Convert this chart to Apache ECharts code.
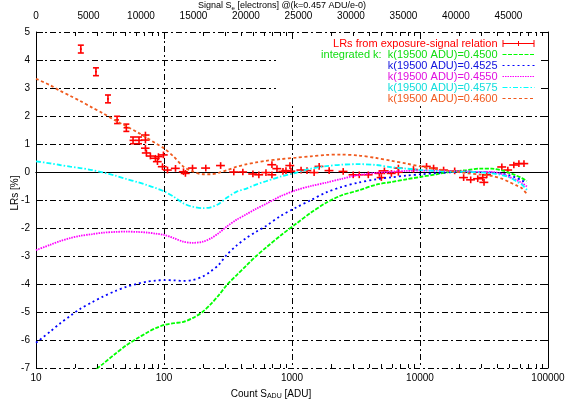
<!DOCTYPE html>
<html><head><meta charset="utf-8">
<script src="https://cdn.jsdelivr.net/npm/echarts@6/dist/echarts.min.js"></script>
<style>html,body{margin:0;padding:0;background:#fff}#c{width:567px;height:402px}</style>
</head><body><div id="c"></div>
<script>
// ---- data ----
const curveX = [10, 12.9, 15.4, 18.5, 22.1, 27.5, 33, 41.7, 50.8, 62, 72.9, 85.7, 101, 119, 142, 167, 201, 232, 268, 309, 370, 436, 522, 626, 820, 1075, 1409, 1848, 2422, 3294, 4560, 5976, 7830, 10270, 13460, 17650, 23170, 29300, 36380, 43590, 49430, 56100, 62500, 68400];
const yK4500 = [null, null, null, null, null, -7.15, -6.87, -6.49, -6.19, -5.94, -5.75, -5.58, -5.46, -5.40, -5.35, -5.22, -4.99, -4.72, -4.40, -4.04, -3.68, -3.36, -3.01, -2.70, -2.26, -1.85, -1.45, -1.10, -0.84, -0.66, -0.45, -0.36, -0.26, -0.17, -0.08, 0.01, 0.07, 0.12, 0.12, 0.06, -0.02, -0.12, -0.22, -0.32];
const yK4525 = [-6.10, -5.70, -5.41, -5.14, -4.89, -4.65, -4.46, -4.25, -4.10, -3.99, -3.92, -3.88, -3.86, -3.87, -3.89, -3.86, -3.73, -3.55, -3.31, -2.96, -2.62, -2.37, -2.14, -1.93, -1.56, -1.27, -1.00, -0.73, -0.54, -0.38, -0.26, -0.19, -0.13, -0.08, -0.04, -0.01, 0.01, 0.0, -0.02, -0.06, -0.11, -0.20, -0.30, -0.40];
const yK4550 = [-2.79, -2.60, -2.47, -2.36, -2.28, -2.22, -2.17, -2.14, -2.13, -2.14, -2.16, -2.20, -2.25, -2.36, -2.49, -2.53, -2.49, -2.37, -2.18, -1.95, -1.70, -1.52, -1.32, -1.14, -0.86, -0.65, -0.50, -0.38, -0.25, -0.11, -0.03, 0.01, 0.04, 0.05, 0.05, 0.04, 0.02, 0.0, 0.0, -0.07, -0.17, -0.28, -0.39, -0.52];
const yK4575 = [0.38, 0.31, 0.25, 0.19, 0.14, 0.07, -0.01, -0.13, -0.25, -0.36, -0.46, -0.57, -0.70, -0.88, -1.12, -1.24, -1.29, -1.26, -1.14, -0.92, -0.70, -0.60, -0.45, -0.33, -0.16, -0.03, 0.12, 0.21, 0.26, 0.28, 0.25, 0.17, 0.12, 0.07, 0.04, 0.01, 0.0, -0.01, -0.05, -0.11, -0.18, -0.32, -0.45, -0.64];
const yK4600 = [3.33, 3.10, 2.90, 2.72, 2.54, 2.30, 2.11, 1.84, 1.63, 1.42, 1.23, 1.03, 0.83, 0.55, 0.19, 0.02, -0.08, -0.08, -0.03, 0.06, 0.19, 0.27, 0.34, 0.40, 0.46, 0.51, 0.56, 0.61, 0.62, 0.59, 0.50, 0.40, 0.30, 0.19, 0.10, 0.03, -0.04, -0.09, -0.14, -0.24, -0.35, -0.47, -0.58, -0.79];

const lrX = [22.4, 29.4, 36.5, 43, 50.8, 57.3, 63.8, 71.6, 71.6, 71.6, 72.9, 78.3, 85.7, 88.9, 90.5, 99, 97.3, 106.5, 123, 142, 147, 167, 212, 277, 351, 413, 495, 551, 626, 697, 697, 763, 850, 897, 964, 982, 1177, 1310, 1489, 1630, 1951, 2512, 3008, 3353, 3945, 4811, 4990, 5976, 6780, 5271, 6780, 8892, 11250, 12770, 15290, 18660, 21930, 24890, 28250, 30920, 31640, 33240, 43590, 48560, 54080, 59240, 64900];
const lrY = [4.39, 3.58, 2.61, 1.86, 1.58, 1.13, 1.13, 1.32, 1.14, 0.85, 0.68, 0.57, 0.49, 0.37, 0.55, 0.61, 0.19, 0.07, 0.13, 0.01, -0.05, 0.14, 0.14, 0.23, 0.0, 0.0, -0.07, -0.1, -0.02, 0.26, -0.1, 0.12, 0.02, 0.05, 0.23, 0.03, 0.07, 0.05, -0.02, 0.2, 0.05, 0.02, -0.1, -0.1, -0.1, -0.05, -0.2, -0.05, -0.01, 0.04, 0.14, 0.09, 0.2, 0.14, 0.07, 0.04, -0.2, -0.28, -0.24, -0.2, -0.37, -0.1, 0.18, 0.07, 0.25, 0.3, 0.3];
const lrXErr = [0.4, 0.5, 0.6, 1.5, 2.5, 3.5, 4, 5.5, 5.5, 5.5, 5.8, 6.2, 6.8, 7, 7.2, 7.9, 7.8, 8.5, 9.8, 11.4, 11.8, 13.4, 17, 22, 28, 33, 40, 44, 50, 56, 56, 61, 68, 72, 77, 79, 94, 105, 119, 130, 156, 201, 241, 268, 316, 385, 399, 478, 542, 422, 542, 711, 900, 1022, 1223, 1493, 1754, 1991, 2260, 2474, 2531, 2659, 3487, 3885, 4326, 4739, 5192];
const lrYErr = [0.14, 0.14, 0.14, 0.13, 0.13, 0.12, 0.12, 0.12, 0.12, 0.12, 0.12, 0.12, 0.12, 0.12, 0.12, 0.12, 0.12, 0.12, 0.12, 0.12, 0.12, 0.12, 0.12, 0.12, 0.12, 0.12, 0.12, 0.12, 0.12, 0.12, 0.12, 0.12, 0.12, 0.12, 0.12, 0.12, 0.12, 0.12, 0.12, 0.12, 0.12, 0.12, 0.12, 0.12, 0.12, 0.12, 0.12, 0.12, 0.12, 0.12, 0.12, 0.12, 0.12, 0.12, 0.12, 0.12, 0.12, 0.12, 0.12, 0.12, 0.12, 0.12, 0.12, 0.12, 0.12, 0.12, 0.12];

const minorTicks = [20, 30, 40, 50, 60, 70, 80, 90, 200, 300, 400, 500, 600, 700, 800, 900, 2000, 3000, 4000, 5000, 6000, 7000, 8000, 9000, 20000, 30000, 40000, 50000, 60000, 70000, 80000, 90000];

const names = ['LRs from exposure-signal relation', 'integrated k:  k(19500 ADU)=0.4500', 'k(19500 ADU)=0.4525', 'k(19500 ADU)=0.4550', 'k(19500 ADU)=0.4575', 'k(19500 ADU)=0.4600'];
// ---- style ----
const FONT = '"Liberation Sans", Arial, Helvetica, sans-serif';
const RED = '#ff0000', GREEN = '#00ff00', BLUE = '#0000ff', MAG = '#ff00ff', CYAN = '#00ffff', ORG = '#f05a1e';
const DASH = [6, 3, 2, 3];
const Y_MIN = -7, Y_MAX = 5;

function pairs(ys) { return curveX.map((x, i) => [x, ys[i]]); }
function lineSeries(name, ys, color, dash) {
  return {
    name, type: 'line', data: pairs(ys), xAxisIndex: 0, yAxisIndex: 0,
    showSymbol: false, symbol: 'none', smooth: 0.3, connectNulls: false,
    lineStyle: {color, width: 1.8, type: dash}, itemStyle: {color}, z: 3
  };
}
function errItem(params, api) {
  const x = api.value(0), y = api.value(1), dx = api.value(2), dy = api.value(3);
  const l = api.coord([x - dx, y]), r = api.coord([x + dx, y]);
  const t = api.coord([x, y + dy]), b = api.coord([x, y - dy]);
  const st = () => ({stroke: RED, lineWidth: 1.6, fill: null});
  const children = [
    {type: 'line', shape: {x1: l[0], y1: l[1], x2: r[0], y2: r[1]}, style: st()},
    {type: 'line', shape: {x1: t[0], y1: t[1], x2: b[0], y2: b[1]}, style: st()}
  ];
  if (dx / x < 0.065) {
    const cap = 3;
    children.push({type: 'line', shape: {x1: t[0] - cap, y1: t[1], x2: t[0] + cap, y2: t[1]}, style: st()});
    children.push({type: 'line', shape: {x1: b[0] - cap, y1: b[1], x2: b[0] + cap, y2: b[1]}, style: st()});
  }
  return {type: 'group', children};
}
function tickItem(params, api) {
  const v = api.value(0);
  const b = api.coord([v, Y_MIN]), t = api.coord([v, Y_MAX]);
  const st = () => ({stroke: '#000', lineWidth: 1});
  const bx = Math.round(b[0]) + 0.5;
  return {type: 'group', children: [
    {type: 'line', shape: {x1: bx, y1: b[1], x2: bx, y2: b[1] - 4}, style: st()},
    {type: 'line', shape: {x1: bx, y1: t[1], x2: bx, y2: t[1] + 4}, style: st()}
  ]};
}

const chart = echarts.init(document.getElementById('c'), null, {renderer: 'canvas'});
const option = {
  animation: false,
  backgroundColor: '#fff',
  textStyle: {fontFamily: FONT},
  grid: {left: 36, top: 32, right: 19, bottom: 34, outerBoundsMode: 'none', containLabel: false},
  graphic: [{type: 'rect', shape: {x: 276, y: 39, width: 265, height: 67}, style: {fill: '#fff'}, z: 1, silent: true}],
  legend: {
    orient: 'vertical', right: 32, top: 38, align: 'right', padding: 0,
    itemWidth: 32, itemHeight: 9, itemGap: 0,
    textStyle: {fontSize: 11, lineHeight: 11, fontFamily: FONT},
    lineStyle: {width: 1},
    itemStyle: {opacity: 0},
    selectedMode: false,
    data: [
      {name: names[0], icon: 'path://M0,3.5h32v1h-32z M0,0.5h1v7h-1z M31,0.5h1v7h-1z M15.5,1.5h1v5h-1z', itemStyle: {opacity: 1, color: RED}, textStyle: {color: RED}},
      {name: names[1], textStyle: {color: '#10dd10'}},
      {name: names[2], textStyle: {color: '#1010dd'}},
      {name: names[3], textStyle: {color: '#e010e0'}},
      {name: names[4], textStyle: {color: '#10dddd'}},
      {name: names[5], textStyle: {color: ORG}}
    ]
  },
  xAxis: [
    {
      type: 'log', logBase: 10, min: 10, max: 100000, position: 'bottom',
      axisLine: {show: true, lineStyle: {color: '#000', width: 1}},
      axisTick: {show: true, inside: true, length: 7, lineStyle: {color: '#000'}},
      axisLabel: {color: '#000', fontSize: 10, margin: 5, fontFamily: FONT, formatter: v => String(Math.round(v))},
      splitLine: {show: true, lineStyle: {color: '#000', width: 1, type: DASH}},
      name: 'Count S{sub|ADU} [ADU]', nameLocation: 'middle', nameGap: 21, nameMoveOverlap: false,
      nameTextStyle: {color: '#000', fontSize: 10, fontFamily: FONT, padding: [0, 42, 0, 0],
        rich: {sub: {fontSize: 7, color: '#000', fontFamily: FONT, padding: [4, 0, 0, 0]}}}
    },
    {
      type: 'value', min: 0, max: 48760, interval: 5000, position: 'top',
      axisLine: {show: true, lineStyle: {color: '#000', width: 1}},
      axisTick: {show: false}, splitLine: {show: false},
      axisLabel: {color: '#000', fontSize: 10, margin: 11, fontFamily: FONT, showMaxLabel: false,
        formatter: v => (v % 5000 === 0 ? String(v) : '')},
      name: 'Signal S{sub|e} [electrons] @(k=0.457 ADU/e-0)', nameLocation: 'middle', nameGap: 21, nameMoveOverlap: false,
      nameTextStyle: {color: '#000', fontSize: 9, fontFamily: FONT, padding: [0, 20, 0, 0],
        rich: {sub: {fontSize: 6, color: '#000', fontFamily: FONT, padding: [4, 0, 0, 0]}}}
    },
    {
      type: 'log', logBase: 10, min: 10, max: 100000, position: 'top',
      axisLine: {show: false}, axisLabel: {show: false}, splitLine: {show: false},
      axisTick: {show: true, inside: true, length: 7, lineStyle: {color: '#000'}}
    }
  ],
  yAxis: [
    {
      type: 'value', min: Y_MIN, max: Y_MAX, interval: 1, position: 'left',
      axisLine: {show: true, lineStyle: {color: '#000', width: 1}},
      axisTick: {show: true, inside: true, length: 7, lineStyle: {color: '#000'}},
      axisLabel: {color: '#000', fontSize: 10, margin: 6, fontFamily: FONT},
      splitLine: {show: true, lineStyle: {color: '#000', width: 1, type: DASH}},
      name: 'LRs [%]', nameLocation: 'middle', nameGap: 16, nameMoveOverlap: false,
      nameTextStyle: {color: '#000', fontSize: 10, fontFamily: FONT, padding: [0, 0, 0, 14]}
    },
    {
      type: 'value', min: Y_MIN, max: Y_MAX, interval: 1, position: 'right',
      axisLine: {show: true, lineStyle: {color: '#000', width: 1}},
      axisTick: {show: true, inside: true, length: 6, lineStyle: {color: '#000'}},
      axisLabel: {show: false}, splitLine: {show: false}
    }
  ],
  series: [
    {
      name: names[0], type: 'custom', xAxisIndex: 0, yAxisIndex: 0,
      dimensions: ['x', 'y', 'dx', 'dy'], encode: {x: 0, y: 1},
      data: lrX.map((x, i) => [x, lrY[i], lrXErr[i], lrYErr[i]]),
      renderItem: errItem, itemStyle: {color: RED}, z: 2, clip: true
    },
    lineSeries(names[1], yK4500, GREEN, [4, 1.5]),
    lineSeries(names[2], yK4525, BLUE, [2, 3]),
    lineSeries(names[3], yK4550, MAG, [1.5, 1]),
    lineSeries(names[4], yK4575, CYAN, [5, 2, 1.5, 2]),
    lineSeries(names[5], yK4600, ORG, [3, 2.5]),
    {
      type: 'custom', xAxisIndex: 0, yAxisIndex: 0, silent: true,
      data: minorTicks.map(v => [v, 0]), encode: {x: 0, y: 1},
      renderItem: tickItem, z: 5
    }
  ]
};
chart.setOption(option);
</script>
</body></html>
